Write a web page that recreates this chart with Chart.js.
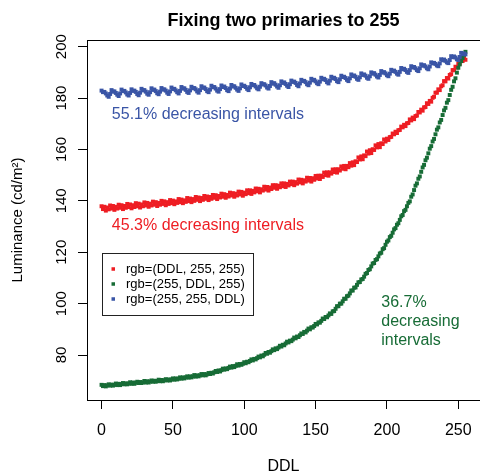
<!DOCTYPE html>
<html>
<head>
<meta charset="utf-8">
<title>Fixing two primaries to 255</title>
<script src="https://cdn.jsdelivr.net/npm/chart.js@4.4.1/dist/chart.umd.min.js"></script>
<style>
  html, body { margin: 0; padding: 0; background: #fff; overflow: hidden; }
  #wrap { width: 484px; height: 476px; }
</style>
</head>
<body>
<div id="wrap"><canvas id="lumChart" width="484" height="476"></canvas></div>
<script>
// Luminance measured while two primaries stay at 255 and the third sweeps DDL 0..255
const ddl = [
  0, 1, 2, 3, 4, 5, 6, 7, 8, 9, 10, 11, 12, 13, 14, 15, 16, 17, 18, 19,
  20, 21, 22, 23, 24, 25, 26, 27, 28, 29, 30, 31, 32, 33, 34, 35, 36, 37, 38, 39,
  40, 41, 42, 43, 44, 45, 46, 47, 48, 49, 50, 51, 52, 53, 54, 55, 56, 57, 58, 59,
  60, 61, 62, 63, 64, 65, 66, 67, 68, 69, 70, 71, 72, 73, 74, 75, 76, 77, 78, 79,
  80, 81, 82, 83, 84, 85, 86, 87, 88, 89, 90, 91, 92, 93, 94, 95, 96, 97, 98, 99,
  100, 101, 102, 103, 104, 105, 106, 107, 108, 109, 110, 111, 112, 113, 114, 115, 116, 117, 118, 119,
  120, 121, 122, 123, 124, 125, 126, 127, 128, 129, 130, 131, 132, 133, 134, 135, 136, 137, 138, 139,
  140, 141, 142, 143, 144, 145, 146, 147, 148, 149, 150, 151, 152, 153, 154, 155, 156, 157, 158, 159,
  160, 161, 162, 163, 164, 165, 166, 167, 168, 169, 170, 171, 172, 173, 174, 175, 176, 177, 178, 179,
  180, 181, 182, 183, 184, 185, 186, 187, 188, 189, 190, 191, 192, 193, 194, 195, 196, 197, 198, 199,
  200, 201, 202, 203, 204, 205, 206, 207, 208, 209, 210, 211, 212, 213, 214, 215, 216, 217, 218, 219,
  220, 221, 222, 223, 224, 225, 226, 227, 228, 229, 230, 231, 232, 233, 234, 235, 236, 237, 238, 239,
  240, 241, 242, 243, 244, 245, 246, 247, 248, 249, 250, 251, 252, 253, 254, 255
];

const redLum = [
  137.9, 136.8, 137.7, 136.2, 137.4, 136.7, 138.2, 137.0, 138.0, 136.5,
  137.7, 137.0, 138.5, 137.3, 138.3, 136.8, 138.0, 137.3, 138.8, 137.6,
  138.6, 137.1, 138.3, 137.6, 139.1, 137.9, 138.9, 137.4, 138.6, 137.9,
  139.4, 138.2, 139.2, 137.7, 138.9, 138.2, 139.7, 138.5, 139.5, 138.0,
  139.2, 138.5, 140.0, 138.8, 139.8, 138.3, 139.5, 138.8, 140.3, 139.1,
  140.1, 138.7, 139.8, 139.2, 140.7, 139.5, 140.5, 139.1, 140.2, 139.6,
  141.1, 139.9, 140.9, 139.5, 140.7, 140.0, 141.5, 140.4, 141.3, 139.9,
  141.1, 140.4, 141.9, 140.8, 141.7, 140.3, 141.5, 140.8, 142.3, 141.2,
  142.2, 140.7, 141.9, 141.3, 142.8, 141.6, 142.6, 141.2, 142.3, 141.7,
  143.2, 142.1, 143.0, 141.6, 142.8, 142.1, 143.6, 142.5, 143.5, 142.0,
  143.2, 142.6, 144.1, 143.0, 144.1, 142.7, 143.9, 143.3, 144.8, 143.7,
  144.7, 143.3, 144.5, 144.0, 145.5, 144.4, 145.4, 144.0, 145.2, 144.6,
  146.1, 145.1, 146.1, 144.7, 145.9, 145.3, 146.8, 145.7, 146.8, 145.4,
  146.6, 146.0, 147.5, 146.5, 147.5, 146.1, 147.3, 146.7, 148.3, 147.2,
  148.2, 146.8, 148.0, 147.5, 149.0, 147.9, 148.9, 147.5, 148.8, 148.2,
  149.7, 148.7, 149.8, 148.5, 149.8, 149.3, 151.0, 150.0, 151.1, 149.8,
  151.1, 150.6, 152.2, 151.2, 152.3, 151.0, 152.3, 151.8, 153.4, 152.5,
  153.6, 152.3, 153.6, 153.1, 154.7, 153.7, 155.0, 153.9, 155.4, 155.1,
  156.9, 156.1, 157.3, 156.2, 157.7, 157.4, 159.2, 158.4, 159.7, 158.6,
  160.1, 159.8, 161.6, 160.8, 162.1, 160.9, 162.4, 162.1, 163.9, 163.1,
  164.2, 163.7, 164.8, 164.9, 166.2, 165.9, 166.9, 166.4, 167.5, 167.6,
  168.9, 168.6, 169.6, 169.1, 170.2, 170.3, 171.7, 171.3, 172.4, 171.8,
  173.0, 173.2, 174.6, 174.4, 175.5, 175.1, 176.4, 176.5, 178.0, 177.7,
  178.9, 178.6, 180.1, 180.5, 182.1, 182.1, 183.4, 183.1, 184.6, 185.0,
  186.6, 186.5, 187.8, 187.6, 189.0, 189.3, 190.9, 190.8, 192.2, 191.9,
  193.3, 193.4, 194.7, 194.4, 195.4, 194.9
];

const greenLum = [
  68.4, 67.9, 68.3, 67.8, 68.2, 68.6, 68.1, 68.5, 68.1, 68.4,
  68.9, 68.3, 68.8, 68.3, 68.7, 69.1, 68.6, 69.0, 68.6, 68.9,
  69.4, 68.8, 69.3, 68.8, 69.2, 69.6, 69.1, 69.5, 69.1, 69.4,
  69.9, 69.3, 69.8, 69.3, 69.7, 70.1, 69.6, 70.0, 69.6, 69.9,
  70.4, 69.8, 70.3, 69.8, 70.2, 70.6, 70.1, 70.5, 70.1, 70.5,
  70.9, 70.4, 70.9, 70.5, 70.8, 71.3, 70.8, 71.3, 70.9, 71.3,
  71.7, 71.2, 71.7, 71.3, 71.7, 72.2, 71.6, 72.1, 71.7, 72.1,
  72.6, 72.1, 72.6, 72.1, 72.5, 73.0, 72.6, 73.1, 72.8, 73.3,
  73.8, 73.4, 74.0, 73.6, 74.1, 74.7, 74.3, 74.8, 74.5, 75.0,
  75.5, 75.1, 75.7, 75.3, 75.8, 76.4, 75.9, 76.5, 76.2, 76.6,
  77.2, 76.8, 77.4, 77.2, 77.7, 78.3, 77.9, 78.5, 78.3, 78.8,
  79.4, 79.1, 79.8, 79.5, 80.1, 80.8, 80.5, 81.2, 80.9, 81.5,
  82.2, 81.9, 82.6, 82.3, 82.9, 83.6, 83.3, 84.0, 83.8, 84.5,
  85.2, 84.9, 85.6, 85.4, 86.0, 86.8, 86.5, 87.2, 87.0, 87.7,
  88.4, 88.2, 89.0, 88.8, 89.5, 90.3, 90.0, 90.8, 90.7, 91.3,
  92.1, 91.9, 92.7, 92.6, 93.3, 94.2, 94.0, 94.8, 94.7, 95.4,
  96.2, 96.0, 97.0, 97.1, 98.0, 99.0, 99.0, 100.0, 100.0, 100.9,
  101.9, 101.9, 102.9, 103.1, 104.0, 105.1, 105.1, 106.2, 106.3, 107.3,
  108.3, 108.4, 109.4, 109.6, 110.5, 111.6, 111.9, 113.1, 113.4, 114.5,
  115.6, 115.8, 117.0, 117.3, 118.4, 119.5, 119.8, 121.2, 121.6, 122.9,
  124.1, 124.6, 125.9, 126.4, 127.6, 128.9, 129.4, 130.7, 131.3, 132.6,
  134.0, 134.5, 136.0, 136.5, 137.9, 139.2, 139.8, 141.6, 142.5, 144.2,
  145.9, 146.8, 148.6, 149.5, 151.3, 153.0, 154.0, 155.8, 156.8, 158.5,
  160.3, 161.3, 163.1, 164.1, 165.9, 167.7, 168.6, 170.5, 171.5, 173.4,
  175.2, 176.2, 178.2, 179.2, 181.2, 183.2, 184.4, 186.5, 187.7, 189.9,
  191.8, 193.1, 194.4, 195.6, 196.8, 198.0
];

const blueLum = [
  182.9, 182.3, 182.4, 181.8, 181.0, 180.5, 181.6,
  183.1, 182.5, 182.6, 182.0, 181.3, 180.8, 181.8,
  183.3, 182.7, 182.8, 182.2, 181.4, 181.0, 182.0,
  183.4, 182.8, 182.9, 182.4, 181.6, 181.1, 182.1,
  183.6, 183.0, 183.1, 182.5, 181.7, 181.3, 182.3,
  183.8, 183.2, 183.3, 182.7, 181.9, 181.5, 182.5,
  183.9, 183.3, 183.4, 182.9, 182.1, 181.6, 182.6,
  184.1, 183.5, 183.6, 183.0, 182.3, 181.8, 182.8,
  184.3, 183.7, 183.8, 183.2, 182.4, 182.0, 183.0,
  184.4, 183.8, 183.9, 183.4, 182.6, 182.1, 183.1,
  184.6, 184.0, 184.1, 183.5, 182.7, 182.3, 183.3,
  184.8, 184.2, 184.3, 183.7, 182.9, 182.5, 183.5,
  184.9, 184.3, 184.5, 183.9, 183.1, 182.7, 183.7,
  185.1, 184.5, 184.6, 184.0, 183.3, 182.8, 183.8,
  185.3, 184.7, 184.8, 184.3, 183.6, 183.1, 184.2,
  185.5, 185.0, 185.1, 184.5, 183.8, 183.4, 184.4,
  185.8, 185.3, 185.4, 184.9, 184.1, 183.7, 184.7,
  186.2, 185.6, 185.8, 185.2, 184.5, 184.0, 185.0,
  186.5, 185.9, 186.1, 185.5, 184.8, 184.3, 185.4,
  186.8, 186.3, 186.4, 185.9, 185.1, 184.6, 185.7,
  187.1, 186.6, 186.7, 186.2, 185.4, 185.0, 186.0,
  187.5, 186.9, 187.1, 186.5, 185.8, 185.4, 186.4,
  187.9, 187.3, 187.5, 187.0, 186.2, 185.7, 186.8,
  188.3, 187.7, 187.9, 187.4, 186.6, 186.2, 187.3,
  188.7, 188.2, 188.3, 187.8, 187.1, 186.6, 187.7,
  189.2, 188.6, 188.8, 188.3, 187.5, 187.1, 188.1,
  189.6, 189.0, 189.2, 188.7, 187.9, 187.5, 188.5,
  190.0, 189.5, 189.7, 189.1, 188.4, 188.0, 189.0,
  190.5, 189.9, 190.1, 189.6, 188.9, 188.5, 189.5,
  191.0, 190.5, 190.7, 190.2, 189.5, 189.1, 190.2,
  191.7, 191.2, 191.4, 190.9, 190.2, 189.8, 190.9,
  192.4, 191.9, 192.1, 191.6, 190.9, 190.5, 191.6,
  193.1, 192.6, 192.8, 192.3, 191.6, 191.2, 192.3,
  193.9, 193.5, 193.7, 193.3, 192.7, 192.4, 193.5,
  195.1, 194.7, 195.0, 194.5, 193.9, 193.6, 194.8,
  196.3, 195.9, 196.2, 195.8, 195.1, 194.8, 196.0,
  197.6, 197.1, 197.4, 197.0
];

const xTicks = [0, 50, 100, 150, 200, 250];
const yTicks = [80, 100, 120, 140, 160, 180, 200];
const seriesLabels = ['rgb=(DDL, 255, 255)', 'rgb=(255, DDL, 255)', 'rgb=(255, 255, DDL)'];
const noteTexts = [
  ['55.1% decreasing intervals'],
  ['45.3% decreasing intervals'],
  ['36.7%', 'decreasing', 'intervals']
];

const FONT = '"Liberation Sans", Arial, Helvetica, sans-serif';
const RED = '#ee1d23';
const GREEN = '#176c36';
const BLUE = '#3a55a6';
const seriesColors = [RED, GREEN, BLUE];

function toPoints(values) {
  return values.map((v, i) => ({ x: ddl[i], y: v }));
}

// R-style extras: full box, rotated y tick labels, text notes, legend inside the plot
const extrasPlugin = {
  id: 'extras',
  afterDraw(chart) {
    const { ctx, chartArea, scales } = chart;
    const x = scales.x;
    const y = scales.y;
    ctx.save();

    ctx.strokeStyle = '#000';
    ctx.lineWidth = 1;
    ctx.strokeRect(Math.round(chartArea.left) + 0.5, Math.round(chartArea.top) + 0.5,
      chartArea.right - chartArea.left, chartArea.bottom - chartArea.top);

    // y tick labels, parallel to the axis
    ctx.font = '15px ' + FONT;
    ctx.fillStyle = '#000';
    ctx.textAlign = 'center';
    ctx.textBaseline = 'middle';
    yTicks.forEach(v => {
      ctx.save();
      ctx.translate(chartArea.left - 25.5, y.getPixelForValue(v));
      ctx.rotate(-Math.PI / 2);
      ctx.fillText(String(v), 0, 0);
      ctx.restore();
    });

    // notes
    const notePlace = [
      { ddl: 7.2, lum: 173.4, color: BLUE },
      { ddl: 7.2, lum: 130.2, color: RED },
      { ddl: 196, lum: 100.4, color: GREEN }
    ];
    ctx.font = '16px ' + FONT;
    ctx.textAlign = 'left';
    noteTexts.forEach((lines, i) => {
      const p = notePlace[i];
      ctx.fillStyle = p.color;
      const px = x.getPixelForValue(p.ddl);
      const py = y.getPixelForValue(p.lum);
      lines.forEach((line, j) => ctx.fillText(line, px, py + j * 19));
    });

    // legend box
    const bx = Math.round(x.getPixelForValue(0.2)) + 0.5;
    const by = Math.round(y.getPixelForValue(119.8)) + 0.5;
    const bw = 151;
    const bh = 62;
    ctx.strokeStyle = '#222';
    ctx.strokeRect(bx, by, bw, bh);
    ctx.font = '13px ' + FONT;
    seriesLabels.forEach((label, i) => {
      const ly = by + 15.5 + i * 15;
      ctx.fillStyle = seriesColors[i];
      ctx.fillRect(bx + 9, ly - 1.75, 3.5, 3.5);
      ctx.fillStyle = '#000';
      ctx.fillText(label, bx + 23.5, ly);
    });

    ctx.restore();
  }
};

const datasets = [redLum, greenLum, blueLum].map((values, i) => ({
  label: seriesLabels[i],
  data: toPoints(values),
  backgroundColor: seriesColors[i],
  borderColor: seriesColors[i],
  borderWidth: 0,
  pointStyle: 'rect',
  pointRadius: 2.8,
  showLine: false,
  order: 3 - i
}));

new Chart(document.getElementById('lumChart'), {
  type: 'scatter',
  data: { datasets: datasets },
  options: {
    responsive: false,
    animation: false,
    events: [],
    layout: { padding: 0 },
    plugins: {
      legend: { display: false },
      tooltip: { enabled: false },
      title: {
        display: true,
        text: 'Fixing two primaries to 255',
        fullSize: false,
        color: '#000',
        font: { family: FONT, size: 18, weight: 'bold' },
        padding: { top: 10, bottom: 8.4 }
      }
    },
    scales: {
      x: {
        type: 'linear',
        min: -10.2,
        max: 265.2,
        afterBuildTicks: scale => { scale.ticks = xTicks.map(v => ({ value: v })); },
        afterFit: scale => { scale.height = 76; },
        grid: { drawOnChartArea: false, tickLength: 9, color: '#000' },
        border: { color: '#000' },
        ticks: { color: '#000', padding: 12, font: { family: FONT, size: 16 } },
        title: {
          display: true,
          text: 'DDL',
          color: '#000',
          font: { family: FONT, size: 16 },
          padding: { top: 0, bottom: 0 }
        }
      },
      y: {
        type: 'linear',
        min: 62.5,
        max: 202.6,
        afterBuildTicks: scale => { scale.ticks = yTicks.map(v => ({ value: v })); },
        afterFit: scale => { scale.width = 87; },
        grid: { drawOnChartArea: false, tickLength: 9, color: '#000' },
        border: { color: '#000' },
        ticks: { display: false },
        title: {
          display: true,
          text: 'Luminance (cd/m²)',
          color: '#000',
          font: { family: FONT, size: 15 },
          padding: { top: 9, bottom: 0 }
        }
      }
    }
  },
  plugins: [extrasPlugin]
});
</script>
</body>
</html>
